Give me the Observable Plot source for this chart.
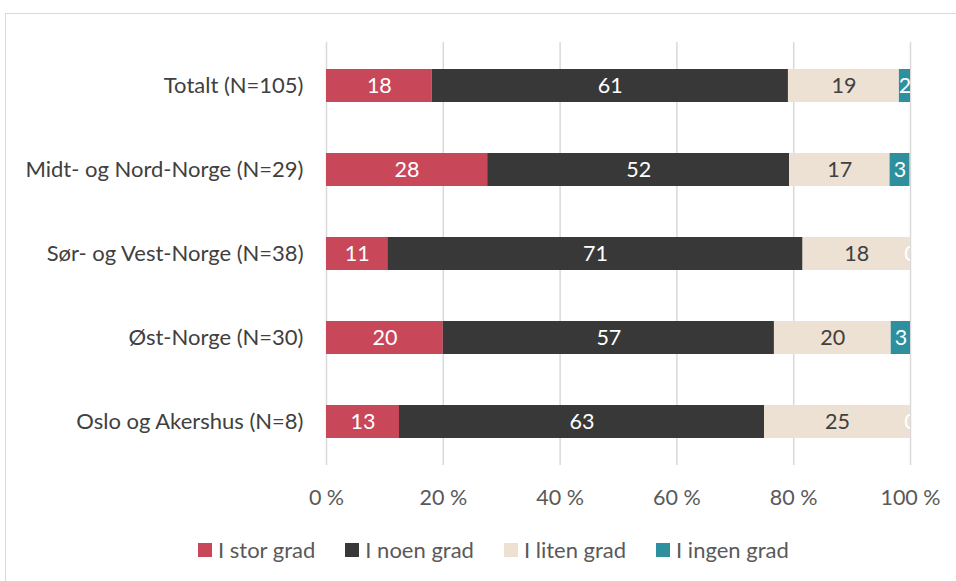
<!DOCTYPE html>
<html>
<head>
<meta charset="utf-8">
<script src="https://cdn.jsdelivr.net/npm/d3@7"></script>
<script src="https://cdn.jsdelivr.net/npm/@observablehq/plot@0.6"></script>
<style>
  html, body { margin: 0; padding: 0; background: #fff; }
  body { width: 956px; height: 581px; position: relative; overflow: hidden; font-family: Lato, "Open Sans", sans-serif; }
  #frame { position: absolute; left: 5px; top: 13px; width: 1000px; height: 600px; border: 1px solid #d9d9d9; box-sizing: border-box; }
  #chart { position: absolute; left: 0; top: 0; }
  #legend { position: absolute; top: 536px; left: 198px; display: flex; gap: 30px; font-size: 22px; line-height: 28px; color: #595959; }
  #legend .item { display: flex; align-items: center; gap: 6px; }
  #legend .sw { width: 14px; height: 14px; display: inline-block; }
</style>
</head>
<body>
<div id="frame"></div>
<div id="chart"></div>
<div id="legend"></div>
<script>
const categories = ["Totalt (N=105)", "Midt- og Nord-Norge (N=29)", "Sør- og Vest-Norge (N=38)", "Øst-Norge (N=30)", "Oslo og Akershus (N=8)"];
const series = ["I stor grad", "I noen grad", "I liten grad", "I ingen grad"];
const storGrad  = [18.1, 27.6, 10.5, 20.0, 12.5];
const noenGrad  = [61.0, 51.7, 71.1, 56.7, 62.5];
const litenGrad = [19.0, 17.2, 18.4, 20.0, 25.0];
const ingenGrad = [1.9, 3.4, 0, 3.3, 0];
const xTicks = [0, 20, 40, 60, 80, 100];
const colors = ["#C8485A", "#383838", "#EDE1D3", "#2E8F9E"];

const seriesValues = [storGrad, noenGrad, litenGrad, ingenGrad];
const data = [];
categories.forEach((c, i) => {
  series.forEach((s, j) => data.push({category: c, series: s, value: seriesValues[j][i]}));
});

const stackOpts = {x: "value", y: "category", z: "series"};
const font = "Lato, 'Open Sans', sans-serif";

const plot = Plot.plot({
  width: 956,
  height: 520,
  marginTop: 42,
  marginBottom: 55,
  marginLeft: 326,
  marginRight: 46,
  style: {fontFamily: font, color: "#595959", background: "transparent"},
  x: {domain: [0, 100], ticks: xTicks, tickFormat: d => d + " %", label: null},
  y: {domain: categories, paddingInner: 0.61, paddingOuter: 0.305, label: null},
  color: {domain: series, range: colors},
  marks: [
    Plot.gridX(xTicks, {stroke: "#d9d9d9", strokeOpacity: 1, strokeWidth: 1.5}),
    Plot.barX(data, Plot.stackX({...stackOpts, fill: "series"})),
    Plot.text(data, Plot.stackX({...stackOpts,
      text: d => (d.series !== "I liten grad" && d.value > 0) ? String(Math.round(d.value)) : "",
      fill: "white", fontSize: 21.5})),
    Plot.text(data, Plot.stackX({...stackOpts,
      text: d => (d.series === "I liten grad" && d.value > 0) ? String(Math.round(d.value)) : "",
      fill: "#404040", fontSize: 21.5})),
    Plot.text(data, Plot.stackX({...stackOpts,
      text: d => (d.series === "I ingen grad" && d.value === 0) ? "0" : "",
      fill: "white", fontSize: 21.5, clip: true})),
    Plot.axisX({ticks: xTicks, tickFormat: d => d + " %", tickSize: 0, tickPadding: 24, fontSize: 21.5, label: null, color: "#595959"}),
    Plot.axisY({tickSize: 0, tickPadding: 23, fontSize: 22, label: null, color: "#404040"})
  ]
});
document.getElementById("chart").appendChild(plot);

const legend = document.getElementById("legend");
series.forEach((s, i) => {
  const item = document.createElement("div");
  item.className = "item";
  const sw = document.createElement("span");
  sw.className = "sw";
  sw.style.background = colors[i];
  const t = document.createElement("span");
  t.textContent = s;
  item.appendChild(sw);
  item.appendChild(t);
  legend.appendChild(item);
});
</script>
</body>
</html>
